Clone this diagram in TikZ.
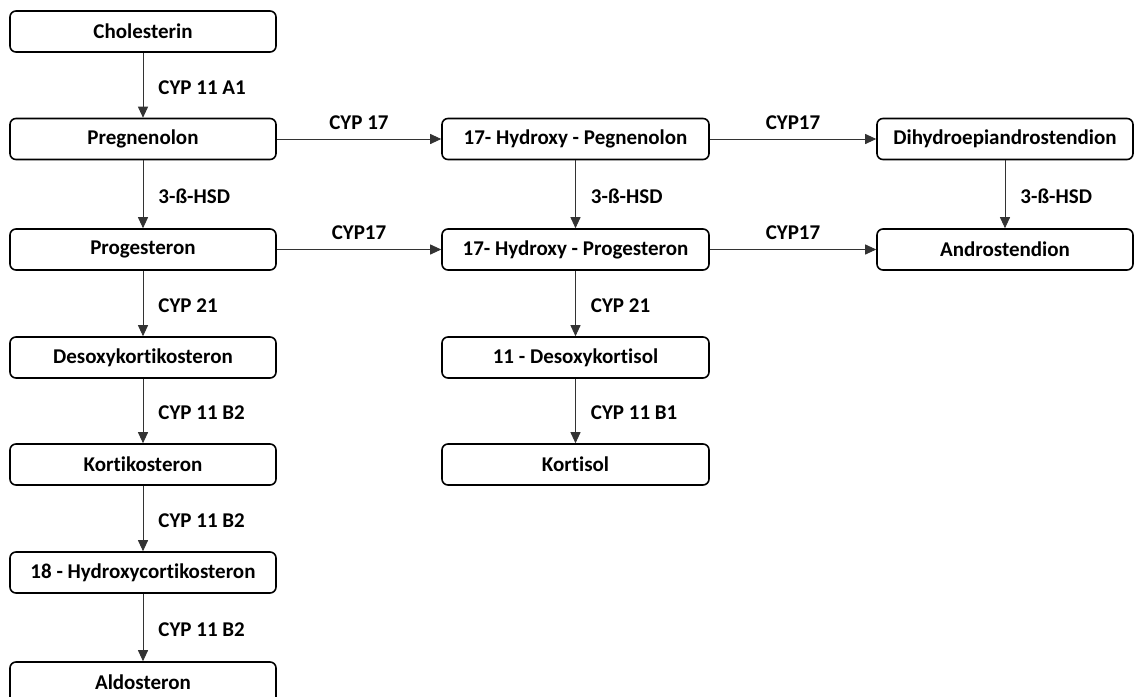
\documentclass[tikz,border=0pt]{standalone}
\usepackage{fontspec}
\setmainfont{Carlito}[Ligatures={NoCommon,NoRare,NoContextual}]
\usetikzlibrary{arrows.meta}
\tikzset{
  box/.style={draw=black, line width=1.6pt, rounded corners=6pt, minimum height=41pt, inner sep=0pt, font=\fontsize{21}{24}\selectfont\bfseries},
  lbox/.style={box, minimum width=266pt},
  mbox/.style={box, minimum width=267pt},
  rbox/.style={box, minimum width=256pt},
  conn/.style={draw=black!80, line width=0.9pt, -{Triangle[length=11pt,width=10pt]}},
  vlab/.style={midway, anchor=west, xshift=15pt, yshift=-2pt, inner sep=0pt, font=\fontsize{21}{24}\selectfont\bfseries},
  hlab/.style={midway, anchor=base, yshift=10pt, inner sep=0pt, font=\fontsize{21}{24}\selectfont\bfseries}
}
\begin{document}
\begin{tikzpicture}[x=1pt,y=-1pt]
\useasboundingbox (0,0) rectangle (1135,696);
\clip (0,0) rectangle (1135,696);
\fill[white] (0,0) rectangle (1135,696);
% left column
\node[lbox] (chol) at (143,31.5) {Cholesterin};
\node[lbox] (preg) at (143,139) {Pregnenolon};
\node[lbox] (prog) at (143,249.5) {Progesteron};
\node[lbox] (doc) at (143,357.5) {Desoxykort\kern0pt ikosteron};
\node[lbox] (kort) at (143,464.5) {Kort\kern0pt ikosteron};
\node[lbox] (hyd18) at (143,572.5) {18 - Hydroxycort\kern0pt ikosteron};
\node[lbox] (aldo) at (143,682.5) {Aldosteron};
% middle column
\node[mbox] (hpreg) at (575.5,139) {17- Hydroxy - Pegnenolon};
\node[mbox] (hprog) at (575.5,249.5) {17- Hydroxy - Progesteron};
\node[mbox] (deso) at (575.5,357.5) {11 - Desoxykort\kern0pt isol};
\node[mbox] (korti) at (575.5,464.5) {Kort\kern0pt isol};
% right column
\node[rbox] (dhea) at (1005,139) {Dihydroepiandrostendion};
\node[rbox] (andro) at (1005,249.5) {Androstendion};
% vertical connectors
\draw[conn] (chol) -- node[vlab] {CYP 11 A1} (preg);
\draw[conn] (preg) -- node[vlab] {3-ß-HSD} (prog);
\draw[conn] (prog) -- node[vlab] {CYP 21} (doc);
\draw[conn] (doc) -- node[vlab] {CYP 11 B2} (kort);
\draw[conn] (kort) -- node[vlab] {CYP 11 B2} (hyd18);
\draw[conn] (hyd18) -- node[vlab] {CYP 11 B2} (aldo);
\draw[conn] (hpreg) -- node[vlab] {3-ß-HSD} (hprog);
\draw[conn] (hprog) -- node[vlab] {CYP 21} (deso);
\draw[conn] (deso) -- node[vlab] {CYP 11 B1} (korti);
\draw[conn] (dhea) -- node[vlab] {3-ß-HSD} (andro);
% horizontal connectors
\draw[conn] (preg) -- node[hlab] {CYP 17} (hpreg);
\draw[conn] (prog) -- node[hlab] {CYP17} (hprog);
\draw[conn] (hpreg) -- node[hlab] {CYP17} (dhea);
\draw[conn] (hprog) -- node[hlab] {CYP17} (andro);
\end{tikzpicture}
\end{document}
